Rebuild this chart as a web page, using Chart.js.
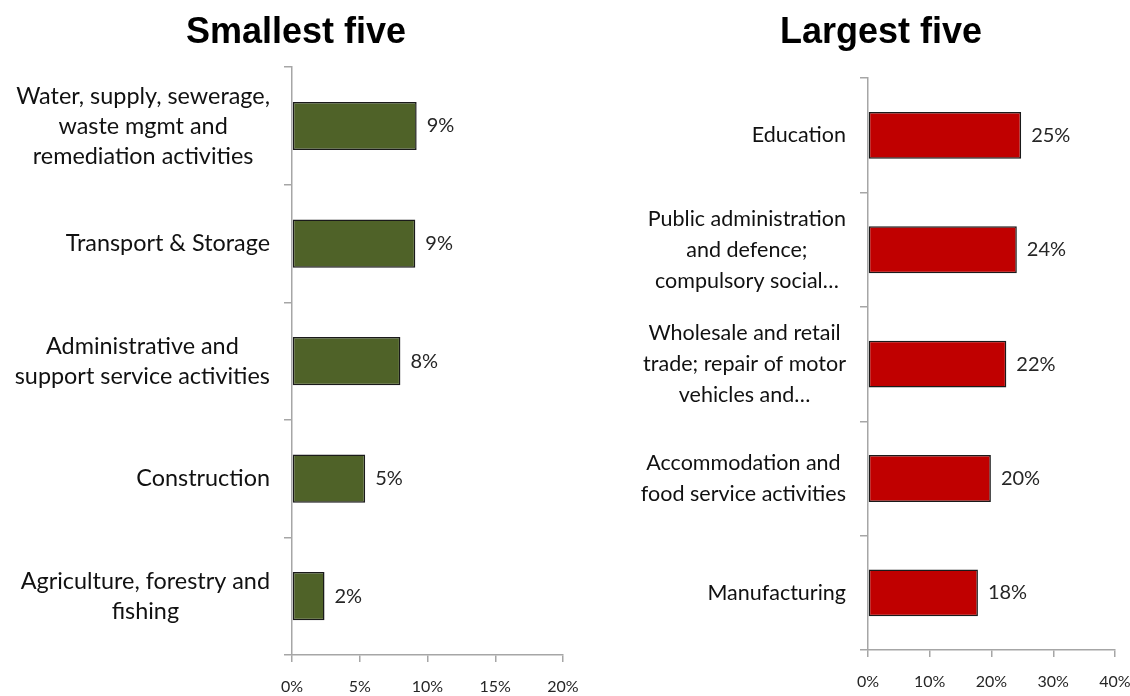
<!DOCTYPE html>
<html>
<head>
<meta charset="utf-8">
<script src="https://cdn.jsdelivr.net/npm/chart.js@4/dist/chart.umd.min.js"></script>
<style>
  html, body { margin: 0; padding: 0; background: #fff; }
  body { width: 1130px; height: 696px; position: relative; overflow: hidden; }
  #smallest { position: absolute; left: 0; top: 0; }
  #largest { position: absolute; left: 632px; top: 0; }
</style>
</head>
<body>
<canvas id="smallest" width="592" height="696"></canvas>
<canvas id="largest" width="498" height="696"></canvas>
<script>
// share of employment by sector, percent
var smallLabels = [
  ['Water, supply, sewerage,', 'waste mgmt and', 'remediation activities'],
  'Transport & Storage',
  ['Administrative and', 'support service activities'],
  'Construction',
  ['Agriculture, forestry and', 'fishing']
];
var smallValues = [9.2, 9.1, 8.0, 5.4, 2.4];
var smallTicks = [0, 5, 10, 15, 20];

var largeLabels = [
  'Education',
  ['Public administration', 'and defence;', 'compulsory social…'],
  ['Wholesale and retail', 'trade; repair of motor', 'vehicles and…'],
  ['Accommodation and', 'food service activities'],
  'Manufacturing'
];
var largeValues = [24.8, 24.1, 22.4, 19.9, 17.8];
var largeTicks = [0, 10, 20, 30, 40];

var axisGrey = '#a6a6a6';
var family = 'Lato, "Open Sans", sans-serif';

// value at the end of each bar, plus category names drawn as
// right-aligned blocks whose lines are centred on each other
var barText = {
  id: 'barText',
  afterDatasetsDraw: function(chart, args, opts) {
    var ctx = chart.ctx;
    var meta = chart.getDatasetMeta(0);
    var yScale = chart.scales.y;
    var values = chart.data.datasets[0].data;
    ctx.save();
    ctx.font = '20px ' + family;
    ctx.textBaseline = 'middle';
    ctx.textAlign = 'left';
    ctx.fillStyle = '#262626';
    meta.data.forEach(function(bar, i) {
      ctx.fillText(Math.round(values[i]) + '%', bar.x + 10, bar.y);
    });

    ctx.font = opts.size + 'px ' + family;
    ctx.fillStyle = '#111';
    ctx.textAlign = 'center';
    var lineH = opts.lineHeight;
    var right = yScale.right - 22;
    chart.data.labels.forEach(function(label, i) {
      var lines = [].concat(label);
      var w = Math.max.apply(null, lines.map(function(l) { return ctx.measureText(l).width; }));
      var y0 = yScale.getPixelForValue(i) - (lines.length - 1) * lineH / 2;
      lines.forEach(function(l, k) {
        ctx.fillText(l, right - w / 2, y0 + k * lineH);
      });
    });
    ctx.restore();
  }
};

function makeChart(id, title, labels, values, ticks, colour, opts) {
  new Chart(document.getElementById(id), {
    type: 'bar',
    data: {
      labels: labels,
      datasets: [{
        data: values,
        backgroundColor: colour,
        borderColor: '#1a1a1a',
        borderWidth: 1.5,
        borderSkipped: false,
        barPercentage: 0.41,
        categoryPercentage: 1
      }]
    },
    options: {
      indexAxis: 'y',
      responsive: false,
      animation: false,
      layout: { padding: { left: opts.pad, right: opts.pad, top: 0, bottom: 0 } },
      scales: {
        x: {
          min: ticks[0],
          max: ticks[ticks.length - 1],
          afterBuildTicks: function(s) {
            s.ticks = ticks.map(function(v) { return { value: v }; });
          },
          afterFit: function(s) {
            s.height = opts.xHeight;
            s.paddingLeft = 0;
            s.paddingRight = 0;
          },
          grid: { drawOnChartArea: false, drawTicks: true, tickLength: 7, color: axisGrey, lineWidth: 1.5 },
          border: { color: axisGrey, width: 1.5 },
          ticks: {
            padding: 15,
            color: '#262626',
            font: { family: family, size: 16 },
            callback: function(v) { return v + '%'; }
          }
        },
        y: {
          afterFit: function(s) {
            s.width = opts.yWidth;
            s.paddingTop = 0;
            s.paddingBottom = 0;
          },
          grid: { offset: true, drawOnChartArea: false, drawTicks: true, tickLength: 8, color: axisGrey, lineWidth: 1.5 },
          border: { color: axisGrey, width: 1.5 },
          ticks: { display: false }
        }
      },
      plugins: {
        legend: { display: false },
        tooltip: { enabled: false },
        title: {
          display: true,
          text: title,
          color: '#000',
          font: { family: '"Liberation Sans", Arial, sans-serif', size: 36, weight: 'bold' },
          padding: { top: 11, bottom: opts.titleGap }
        },
        barText: { size: opts.labelSize, lineHeight: opts.lineHeight }
      }
    },
    plugins: [barText]
  });
}

makeChart('smallest', 'Smallest five', smallLabels, smallValues, smallTicks, '#4f6228',
  { pad: 29, xHeight: 41, yWidth: 263, titleGap: 13, labelSize: 23.4, lineHeight: 30 });
makeChart('largest', 'Largest five', largeLabels, largeValues, largeTicks, '#c00000',
  { pad: 15, xHeight: 46, yWidth: 221, titleGap: 24, labelSize: 21.5, lineHeight: 31 });
</script>
</body>
</html>
